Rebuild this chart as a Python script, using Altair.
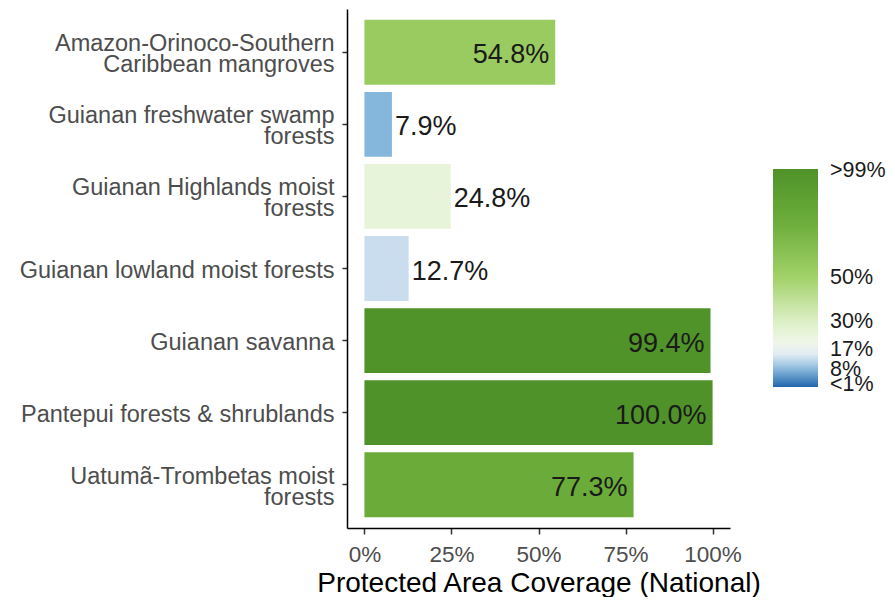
import altair as alt
import pandas as pd

ecoregions = [
    "Amazon-Orinoco-Southern\nCaribbean mangroves",
    "Guianan freshwater swamp\nforests",
    "Guianan Highlands moist\nforests",
    "Guianan lowland moist forests",
    "Guianan savanna",
    "Pantepui forests & shrublands",
    "Uatumã-Trombetas moist\nforests",
]
coverage = [54.8, 7.9, 24.8, 12.7, 99.4, 100.0, 77.3]
x_ticks = [0, 25, 50, 75, 100]
legend_breaks = [1, 8, 17, 30, 50, 99]
color_stops = [0, 8, 13, 17, 25, 30, 50, 75, 100]
color_values = ["#2166ac", "#85b8dc", "#cddff0", "#f5f6f5", "#e7f4d8",
                "#dcefc6", "#a3d26a", "#6dae3c", "#4e9229"]

df = pd.DataFrame({"ecoregion": ecoregions, "coverage": coverage})

FONT = "Liberation Sans"

color_scale = alt.Scale(domain=color_stops, range=color_values, interpolate="rgb")
x_scale = alt.Scale(domain=[-5, 105], nice=False, zero=False)

base = alt.Chart(df).transform_calculate(
    label="format(datum.coverage, '.1f') + '%'"
).encode(
    y=alt.Y(
        "ecoregion:N",
        sort=ecoregions,
        scale=alt.Scale(paddingInner=0.1, paddingOuter=0.15),
        axis=alt.Axis(
            title=None,
            labelExpr="split(datum.label, '\\n')",
            labelFont=FONT,
            labelFontSize=23.5,
            labelLineHeight=21,
            labelColor="#4d4d4d",
            labelLimit=0,
            labelPadding=8,
            labelOffset={
                "condition": {"test": "indexof(datum.value, '\\n') >= 0", "value": -8},
                "value": 2,
            },
            tickSize=5,
            tickColor="#333333",
            tickWidth=1.5,
            domainColor="#000000",
            domainWidth=1.5,
        ),
    )
)

bars = base.mark_bar().encode(
    x=alt.X(
        "coverage:Q",
        scale=x_scale,
        axis=alt.Axis(
            values=x_ticks,
            labelExpr="datum.value + '%'",
            labelFont=FONT,
            labelFontSize=22.5,
            labelColor="#4d4d4d",
            labelFlush=False,
            labelPadding=9,
            tickSize=6,
            tickColor="#333333",
            tickWidth=1.5,
            domainColor="#000000",
            domainWidth=1.5,
            grid=False,
            title="Protected Area Coverage (National)",
            titleFont=FONT,
            titleFontSize=28,
            titleFontWeight="normal",
            titleColor="#000000",
            titlePadding=4,
        ),
    ),
    x2=alt.datum(0),
    color=alt.Color(
        "coverage:Q",
        scale=color_scale,
        legend=alt.Legend(
            title=None,
            orient="none",
            direction="vertical",
            legendX=426,
            legendY=160,
            gradientLength=218,
            gradientThickness=45,
            gradientStrokeWidth=0,
            values=legend_breaks,
            labelExpr="datum.value <= 1 ? '<1%' : datum.value >= 99 ? '>99%' : datum.value + '%'",
            labelFont=FONT,
            labelFontSize=21.5,
            labelColor="#1a1a1a",
            labelOffset=12,
            labelOverlap=False,
            labelBaseline="middle",
        ),
    ),
)

inside = base.mark_text(
    align="right", baseline="middle", dx=-6, dy=3, font=FONT, fontSize=27, color="#1a1a1a"
).encode(
    x=alt.X("coverage:Q", scale=x_scale),
    text="label:N",
).transform_filter("datum.coverage >= 50")

outside = base.mark_text(
    align="left", baseline="middle", dx=3, dy=3, font=FONT, fontSize=27, color="#1a1a1a"
).encode(
    x=alt.X("coverage:Q", scale=x_scale),
    text="label:N",
).transform_filter("datum.coverage < 50")

chart = alt.layer(bars, inside, outside).properties(
    width=383,
    height=519,
    autosize=alt.AutoSizeParams(type="none"),
    padding={"left": 339, "top": 1, "right": 157, "bottom": 69},
).configure_view(stroke=None)

chart.save("out.html", embed_options={"renderer": "svg", "actions": False})
